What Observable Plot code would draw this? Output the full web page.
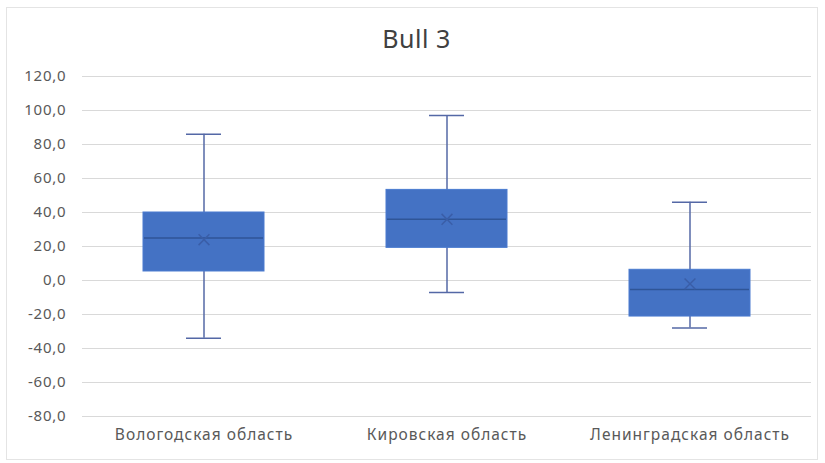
<!DOCTYPE html>
<html>
<head>
<meta charset="utf-8">
<script src="https://cdn.jsdelivr.net/npm/d3@7"></script>
<script src="https://cdn.jsdelivr.net/npm/@observablehq/plot@0.6"></script>
<style>
  html, body { margin: 0; padding: 0; background: #fff; }
  #wrap { width: 825px; height: 463px; position: relative; overflow: hidden; }
  #frame { position: absolute; left: 6px; top: 7px; width: 812px; height: 453px; border: 1px solid #e4e4e4; box-sizing: border-box; pointer-events: none; z-index: 2; }
  #title { position: absolute; left: 0; width: 825px; top: 21px; line-height: normal; text-align: center; font-family: "Noto Sans", "Open Sans", sans-serif; font-size: 25px; letter-spacing: 0.5px; color: #404040; padding-left: 8px; box-sizing: border-box; z-index: 3; }
  #chart { position: absolute; left: 0; top: 56px; }
  svg { display: block; }
</style>
</head>
<body>
<div id="wrap">
  <div id="frame"></div>
  <div id="title">Bull 3</div>
  <div id="chart"></div>
</div>
<script>
const categories = ["Вологодская область", "Кировская область", "Ленинградская область"];
const whiskerLow = [-34, -7, -28];
const q1 = [5.3, 19.2, -21.2];
const median = [25, 36, -5.3];
const q3 = [40, 53.3, 6.3];
const whiskerHigh = [86, 97, 46];
const mean = [24, 36, -2];
const yTicks = [-80, -60, -40, -20, 0, 20, 40, 60, 80, 100, 120];

const data = categories.map((c, i) => ({
  cat: c, lo: whiskerLow[i], q1: q1[i], med: median[i], q3: q3[i], hi: whiskerHigh[i], mean: mean[i]
}));

const fmt = d => d.toFixed(1).replace(".", ",");

const chart = Plot.plot({
  width: 825,
  height: 407,
  marginLeft: 82,
  marginRight: 14,
  marginTop: 20,
  marginBottom: 47,
  style: { fontFamily: "'Noto Sans', 'Open Sans', sans-serif", fontSize: "15px", color: "#595959", background: "#fff" },
  x: { domain: categories, padding: 0, label: null, tickSize: 0, tickPadding: 12 },
  y: { domain: [-80, 120], ticks: yTicks, tickFormat: fmt, label: null, tickSize: 0, tickPadding: 16 },
  marks: [
    Plot.ruleY(yTicks, { stroke: "#d9d9d9", strokeWidth: 1 }),
    Plot.ruleX(data, { x: "cat", y1: "lo", y2: "hi", stroke: "#5468a6", strokeWidth: 1.5 }),
    Plot.tickY(data, { x: "cat", y: "lo", stroke: "#5468a6", strokeWidth: 1.5, insetLeft: 104, insetRight: 104 }),
    Plot.tickY(data, { x: "cat", y: "hi", stroke: "#5468a6", strokeWidth: 1.5, insetLeft: 104, insetRight: 104 }),
    Plot.barY(data, { x: "cat", y1: "q1", y2: "q3", fill: "#4472c4", stroke: "#4a7bd0", strokeWidth: 1, insetLeft: 61, insetRight: 61 }),
    Plot.tickY(data, { x: "cat", y: "med", stroke: "#2f5597", strokeWidth: 1.5, insetLeft: 62, insetRight: 62 }),
    Plot.dot(data, { x: "cat", y: "mean", symbol: "times", r: 5, stroke: "#3a5ea8", strokeWidth: 1.5 })
  ]
});
chart.querySelectorAll('g[aria-label="y-axis tick label"]').forEach(el => { el.setAttribute("letter-spacing", "0.8px"); });
chart.querySelectorAll('g[aria-label="x-axis tick label"]').forEach(el => { el.setAttribute("letter-spacing", "1px"); el.setAttribute("font-size", "15.5px"); });
document.getElementById("chart").appendChild(chart);
</script>
</body>
</html>
